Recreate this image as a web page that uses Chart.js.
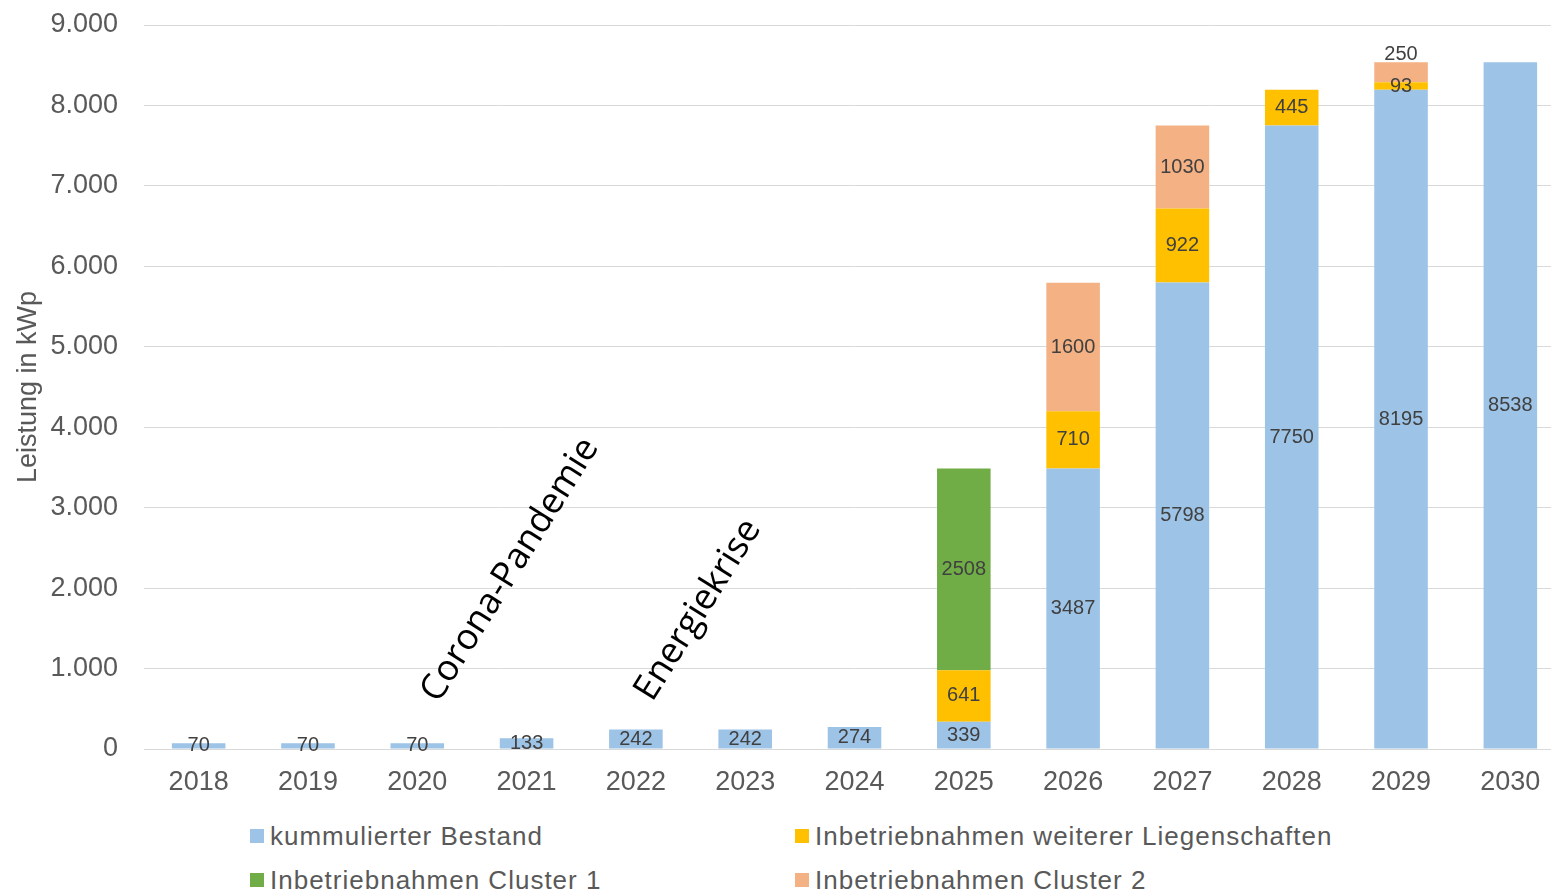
<!DOCTYPE html>
<html>
<head>
<meta charset="utf-8">
<script src="https://cdn.jsdelivr.net/npm/chart.js@4.4.0/dist/chart.umd.min.js"></script>
<style>
html, body { margin: 0; padding: 0; background: #fff; overflow: hidden; width: 1551px; height: 892px; }
#wrap { position: relative; width: 1565px; height: 800px; }
#legend {
    position: absolute; left: 250px; top: 814px;
    display: grid; grid-template-columns: 545px auto; grid-auto-rows: 44px;
    font: 26px "Liberation Sans", Arial, sans-serif; color: #595959; letter-spacing: 1px;
}
#legend .item { display: flex; align-items: center; white-space: nowrap; }
#legend .box { width: 14px; height: 14px; margin-right: 6px; }
</style>
</head>
<body>
<div id="wrap"><canvas id="chart"></canvas></div>
<div id="legend"></div>
<script>
// Chart data
const years = ["2018", "2019", "2020", "2021", "2022", "2023", "2024", "2025", "2026", "2027", "2028", "2029", "2030"];
const bestand = [70, 70, 70, 133, 242, 242, 274, 339, 3487, 5798, 7750, 8195, 8538];
const weitere = [0, 0, 0, 0, 0, 0, 0, 641, 710, 922, 445, 93, 0];
const cluster1 = [0, 0, 0, 0, 0, 0, 0, 2508, 0, 0, 0, 0, 0];
const cluster2 = [0, 0, 0, 0, 0, 0, 0, 0, 1600, 1030, 0, 250, 0];
const seriesNames = ["kummulierter Bestand", "Inbetriebnahmen weiterer Liegenschaften", "Inbetriebnahmen Cluster 1", "Inbetriebnahmen Cluster 2"];
const seriesColors = ["#9DC3E6", "#FFC000", "#70AD47", "#F4B183"];
const yTicks = [0, 1000, 2000, 3000, 4000, 5000, 6000, 7000, 8000, 9000];

// Rotated event notes (x = category index, y = value)
const notes = [
    { text: "Corona-Pandemie", x: 2.85, y: 2225 },
    { text: "Energiekrise", x: 4.57, y: 1728 }
];

const fmt = v => String(v).replace(/\B(?=(\d{3})+(?!\d))/g, ".");

// Value labels in the middle of each segment
const segLabels = {
    id: "segLabels",
    afterDatasetsDraw(chart) {
        const ctx = chart.ctx;
        ctx.save();
        ctx.font = '20px "Liberation Sans", Arial, sans-serif';
        ctx.fillStyle = "#404040";
        ctx.textAlign = "center";
        ctx.textBaseline = "middle";
        const lastY = {};
        chart.data.datasets.forEach((ds, i) => {
            chart.getDatasetMeta(i).data.forEach((bar, j) => {
                const v = ds.data[j];
                if (!v) return;
                let y = (bar.y + bar.base) / 2;
                if (lastY[j] !== undefined && lastY[j] - y < 24) y = lastY[j] - 32;
                lastY[j] = y;
                ctx.fillText(String(v), bar.x, y);
            });
        });
        ctx.restore();
    }
};

// Rotated notes
const notePlugin = {
    id: "notes",
    afterDatasetsDraw(chart) {
        const ctx = chart.ctx;
        const xs = chart.scales.x, ys = chart.scales.y;
        ctx.save();
        ctx.font = '36px "Open Sans", "Noto Sans", sans-serif';
        ctx.fillStyle = "#000";
        ctx.textAlign = "center";
        ctx.textBaseline = "middle";
        notes.forEach(n => {
            ctx.save();
            ctx.translate(xs.getPixelForValue(n.x), ys.getPixelForValue(n.y));
            ctx.rotate(-58 * Math.PI / 180);
            ctx.fillText(n.text, 0, 0);
            ctx.restore();
        });
        ctx.restore();
    }
};

const allData = [bestand, weitere, cluster1, cluster2];

new Chart(document.getElementById("chart"), {
    type: "bar",
    data: {
        labels: years,
        datasets: allData.map((d, i) => ({
            label: seriesNames[i],
            data: d,
            backgroundColor: seriesColors[i],
            borderWidth: 0,
            barPercentage: 1,
            categoryPercentage: 0.49
        }))
    },
    options: {
        responsive: true,
        maintainAspectRatio: false,
        animation: false,
        layout: { padding: { top: 25, right: 0, bottom: 0, left: 0 } },
        plugins: { legend: { display: false }, tooltip: { enabled: false } },
        scales: {
            x: {
                stacked: true,
                grid: { display: false, drawTicks: false },
                border: { display: false },
                ticks: { color: "#595959", font: { family: '"Liberation Sans", Arial, sans-serif', size: 27 }, padding: 17, maxRotation: 0 },
                afterFit: s => { s.height = 51; }
            },
            y: {
                stacked: true,
                min: 0,
                max: 9000,
                afterBuildTicks: s => { s.ticks = yTicks.map(v => ({ value: v })); },
                grid: { color: "#D9D9D9", lineWidth: 1, drawTicks: false },
                border: { display: false },
                ticks: { color: "#595959", font: { family: '"Liberation Sans", Arial, sans-serif', size: 27 }, padding: 26, callback: v => fmt(v) },
                title: { display: true, text: "Leistung in kWp", color: "#595959", font: { family: '"Liberation Sans", Arial, sans-serif', size: 27 }, padding: { top: 12, bottom: 0 } },
                afterFit: s => { s.width = 144; s.paddingTop = 0; s.paddingBottom = 0; }
            }
        }
    },
    plugins: [segLabels, notePlugin]
});

// Legend
const legend = document.getElementById("legend");
seriesNames.forEach((name, i) => {
    const item = document.createElement("div");
    item.className = "item";
    item.innerHTML = `<span class="box" style="background:${seriesColors[i]}"></span>${name}`;
    legend.appendChild(item);
});
</script>
</body>
</html>
